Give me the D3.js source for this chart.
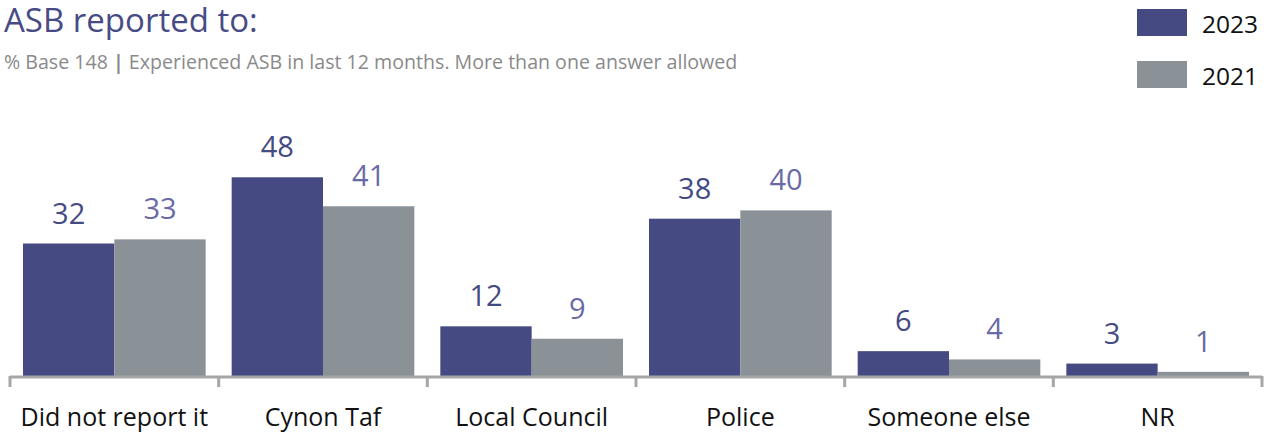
<!DOCTYPE html>
<html>
<head>
<meta charset="utf-8">
<script src="https://cdn.jsdelivr.net/npm/d3@7"></script>
<style>
  html, body { margin: 0; padding: 0; background: #fff; }
  svg { display: block; font-family: "Open Sans", "Noto Sans", sans-serif; }
</style>
</head>
<body>
<svg id="chart" width="1273" height="434"></svg>
<script>
// Where anti-social behaviour was reported, by survey year (%)
const categories = ["Did not report it", "Cynon Taf", "Local Council", "Police", "Someone else", "NR"];
const seriesNames = ["2023", "2021"];
const values2023 = [32, 48, 12, 38, 6, 3];
const values2021 = [33, 41, 9, 40, 4, 1];
const colors = ["#454a82", "#8a9197"];
const labelColors = ["#454a82", "#6a6aa6"];

const svg = d3.select("#chart");

const x = d3.scaleBand().domain(categories).range([10, 1262]).paddingInner(0).paddingOuter(0);
const inner = d3.scaleBand().domain(seriesNames).range([13, x.bandwidth() - 13]).padding(0);
const y = d3.scaleLinear().domain([0, 50]).range([376, 376 - 207]);

const rows = categories.map((c, i) => ({ cat: c, vals: [values2023[i], values2021[i]] }));

// Title and subtitle
svg.append("text").attr("x", 4).attr("y", 32)
  .attr("font-size", 33).attr("fill", "#474b85").text("ASB reported to:");
const sub = svg.append("text").attr("x", 4).attr("y", 69)
  .attr("font-size", 19.6).attr("fill", "#8a8a8a");
sub.append("tspan").text("% Base 148 ");
sub.append("tspan").attr("font-weight", "bold").text("|");
sub.append("tspan").text(" Experienced ASB in last 12 months. More than one answer allowed");

// Bars and value labels
const groups = svg.append("g").selectAll("g").data(rows).join("g")
  .attr("transform", d => `translate(${x(d.cat)},0)`);

groups.selectAll("rect").data(d => d.vals.map((v, j) => ({ v, s: seriesNames[j], j })))
  .join("rect")
  .attr("x", d => inner(d.s))
  .attr("width", inner.bandwidth())
  .attr("y", d => y(d.v))
  .attr("height", d => y(0) - y(d.v))
  .attr("fill", d => colors[d.j]);

groups.selectAll("text.val").data(d => d.vals.map((v, j) => ({ v, s: seriesNames[j], j })))
  .join("text").attr("class", "val")
  .attr("x", d => inner(d.s) + inner.bandwidth() / 2)
  .attr("y", d => y(d.v) - 20)
  .attr("text-anchor", "middle")
  .attr("font-size", 29).attr("fill", d => labelColors[d.j])
  .text(d => d.v);

// Category axis
const axis = svg.append("g").attr("transform", `translate(0,${y(0) + 1})`);
axis.append("line").attr("x1", 10).attr("x2", 1262).attr("y1", 0).attr("y2", 0)
  .attr("stroke", "#a6a6a6").attr("stroke-width", 3);
const tickXs = categories.map(c => x(c)).concat([x.range()[1]]);
axis.selectAll("line.tick").data(tickXs).join("line").attr("class", "tick")
  .attr("x1", d => d).attr("x2", d => d).attr("y1", -1).attr("y2", 10)
  .attr("stroke", "#a6a6a6").attr("stroke-width", 3);
axis.selectAll("text").data(categories).join("text")
  .attr("x", d => x(d) + x.bandwidth() / 2)
  .attr("y", 49)
  .attr("text-anchor", "middle")
  .attr("font-size", 25).attr("fill", "#111")
  .text(d => d);

// Legend
const legend = svg.append("g").selectAll("g").data(seriesNames).join("g")
  .attr("transform", (d, i) => `translate(1137,${9 + i * 52})`);
legend.append("rect").attr("width", 50).attr("height", 27).attr("fill", (d, i) => colors[i]);
legend.append("text").attr("x", 65).attr("y", 24)
  .attr("font-size", 24.5).attr("fill", "#111").text(d => d);
</script>
</body>
</html>
